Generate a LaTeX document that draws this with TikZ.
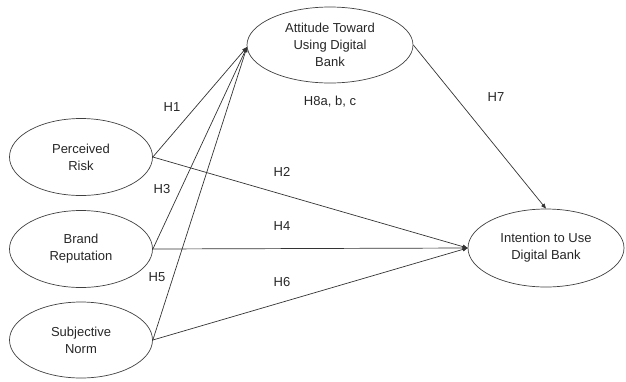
\documentclass[tikz,border=0pt]{standalone}
\usepackage{fontspec}
\setmainfont{Liberation Sans}
\usetikzlibrary{shapes.geometric,arrows.meta}
\begin{document}
\begin{tikzpicture}[x=1pt,y=-1pt,
  every node/.style={font=\fontsize{13}{16.8}\selectfont, text=black!85},
  construct/.style={ellipse, draw=black!75, line width=0.7pt, inner sep=0pt, align=center},
  link/.style={draw=black!80, line width=0.7pt, -{Triangle[length=5pt,width=4pt]}},
  hyp/.style={inner sep=0pt}]
\useasboundingbox (0,0) rectangle (626,381);
\node[construct, minimum width=166, minimum height=76] (att) at (330,45) {Attitude Toward\\Using Digital\\Bank};
\node[construct, minimum width=143, minimum height=77] (pr) at (81,157) {Perceived\\Risk};
\node[construct, minimum width=143, minimum height=77] (br) at (81,249) {Brand\\Reputation};
\node[construct, minimum width=143, minimum height=76] (sn) at (81,340) {Subjective\\Norm};
\node[construct, minimum width=156, minimum height=78] (int) at (546,248) {Intention to Use\\Digital Bank};
\coordinate (attin) at (247,47);
\draw[link] (pr.east) -- (attin);
\draw[link] (br.east) -- (attin);
\draw[link] (sn.east) -- (attin);
\draw[link] (pr.east) -- (int.west);
\draw[link] (br.east) -- (int.west);
\draw[link] (sn.east) -- (int.west);
\draw[link] (att.east) -- (int.north);
\node[hyp] (h1) at (172,107) {H1};
\node[hyp] (h8) at (330,102) {H8a, b, c};
\node[hyp] (h7) at (496,97) {H7};
\node[hyp] (h2) at (282,172) {H2};
\node[hyp] (h3) at (162,189) {H3};
\node[hyp] (h4) at (282,226) {H4};
\node[hyp] (h5) at (157,277) {H5};
\node[hyp] (h6) at (282,282) {H6};
\end{tikzpicture}
\end{document}
